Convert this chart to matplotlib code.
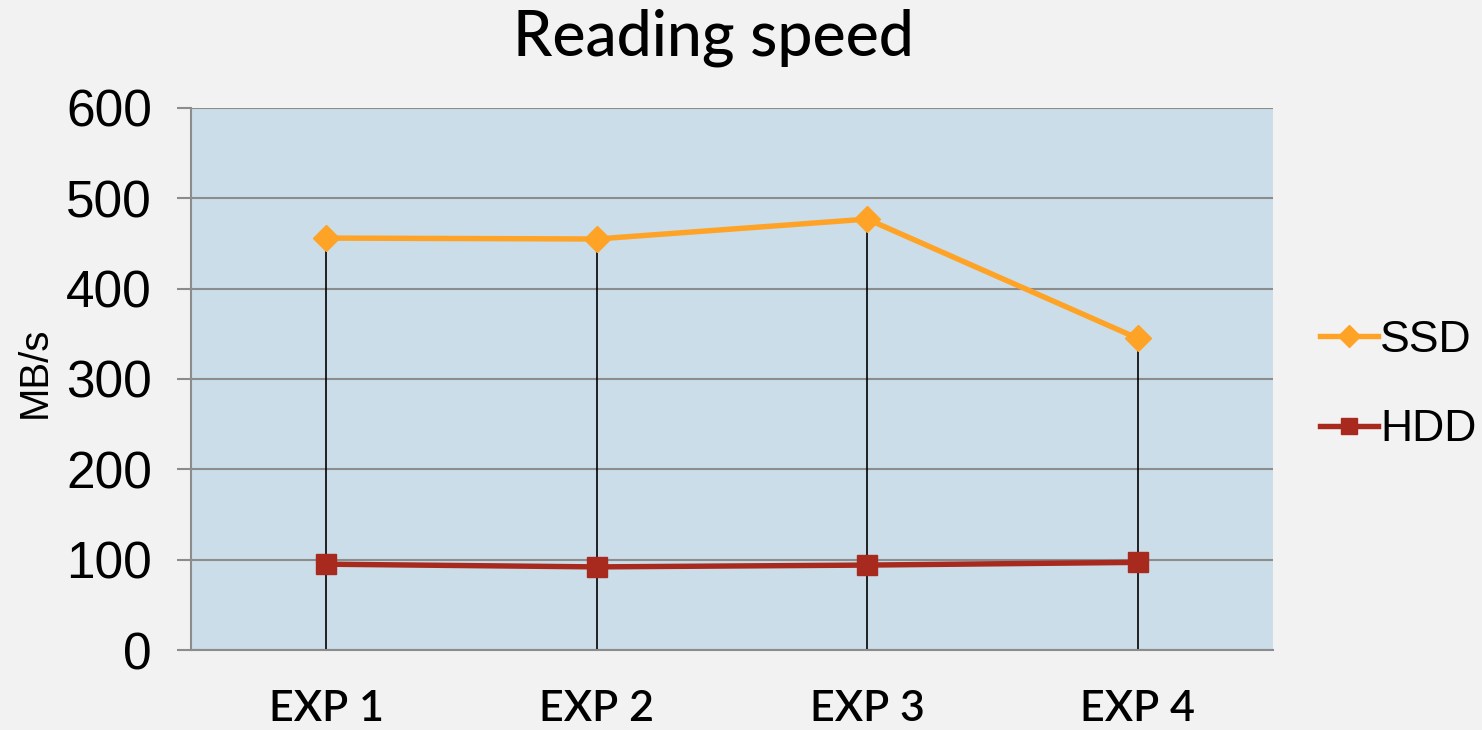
import matplotlib
matplotlib.use("Agg")
import matplotlib.pyplot as plt

categories = ["EXP 1", "EXP 2", "EXP 3", "EXP 4"]
ssd = [456, 455, 477, 345]
hdd = [95, 92, 94, 97]
yticks = [0, 100, 200, 300, 400, 500, 600]

fig = plt.figure(figsize=(14.82, 7.30), dpi=100)
fig.patch.set_facecolor("#f2f2f2")
ax = fig.add_axes([191/1482, 80/730, (1273-191)/1482, (650-108)/730])
ax.set_facecolor("#cadde8")

x = [i + 0.5 for i in range(len(categories))]

# grid
for t in yticks:
    ax.axhline(t, color="#8c8c8c", lw=1.5, zorder=1)

# drop lines
top = [max(a, b) for a, b in zip(ssd, hdd)]
ax.vlines(x, 0, top, color="black", lw=1.2, zorder=2)

ax.plot(x, ssd, color="#ffa326", lw=3.9, marker="D", ms=13, label="SSD", zorder=3)
ax.plot(x, hdd, color="#a8291e", lw=3.9, marker="s", ms=14, label="HDD", zorder=3)

ax.set_xlim(0, 4)
ax.set_ylim(0, 600)
ax.set_yticks(yticks)
ax.set_xticks(x)
ax.set_xticklabels(categories, fontfamily="Lato", fontweight="semibold", fontsize=31)
for lab in ax.get_yticklabels():
    lab.set_fontfamily("Liberation Sans")
    lab.set_fontsize(37)
ax.tick_params(axis="y", length=10, width=1.5, color="#8c8c8c", pad=18)
ax.tick_params(axis="x", length=0, pad=29)

for s in ["top", "right"]:
    ax.spines[s].set_visible(False)
ax.spines["left"].set_color("#8c8c8c")
ax.spines["left"].set_linewidth(1.5)
ax.spines["bottom"].set_color("#8c8c8c")
ax.spines["bottom"].set_linewidth(1.5)

fig.text(35/1482, 1 - 372/730, "MB/s", rotation=90, ha="center", va="center",
         fontfamily="Liberation Sans", fontsize=29)
fig.text(713/1482, 1 - 38/730, "Reading speed", ha="center", va="center",
         fontfamily="Lato", fontweight="medium", fontsize=45)

leg = ax.legend(loc="center left", bbox_to_anchor=((1320-191)/1082, (650-385)/542),
                frameon=False, borderpad=0, borderaxespad=0,
                prop={"family": "Liberation Sans", "size": 32},
                handlelength=1.3, handletextpad=0.05, labelspacing=1.1,
                markerscale=0.85)

fig.savefig("out.png", dpi=100, facecolor=fig.get_facecolor())
